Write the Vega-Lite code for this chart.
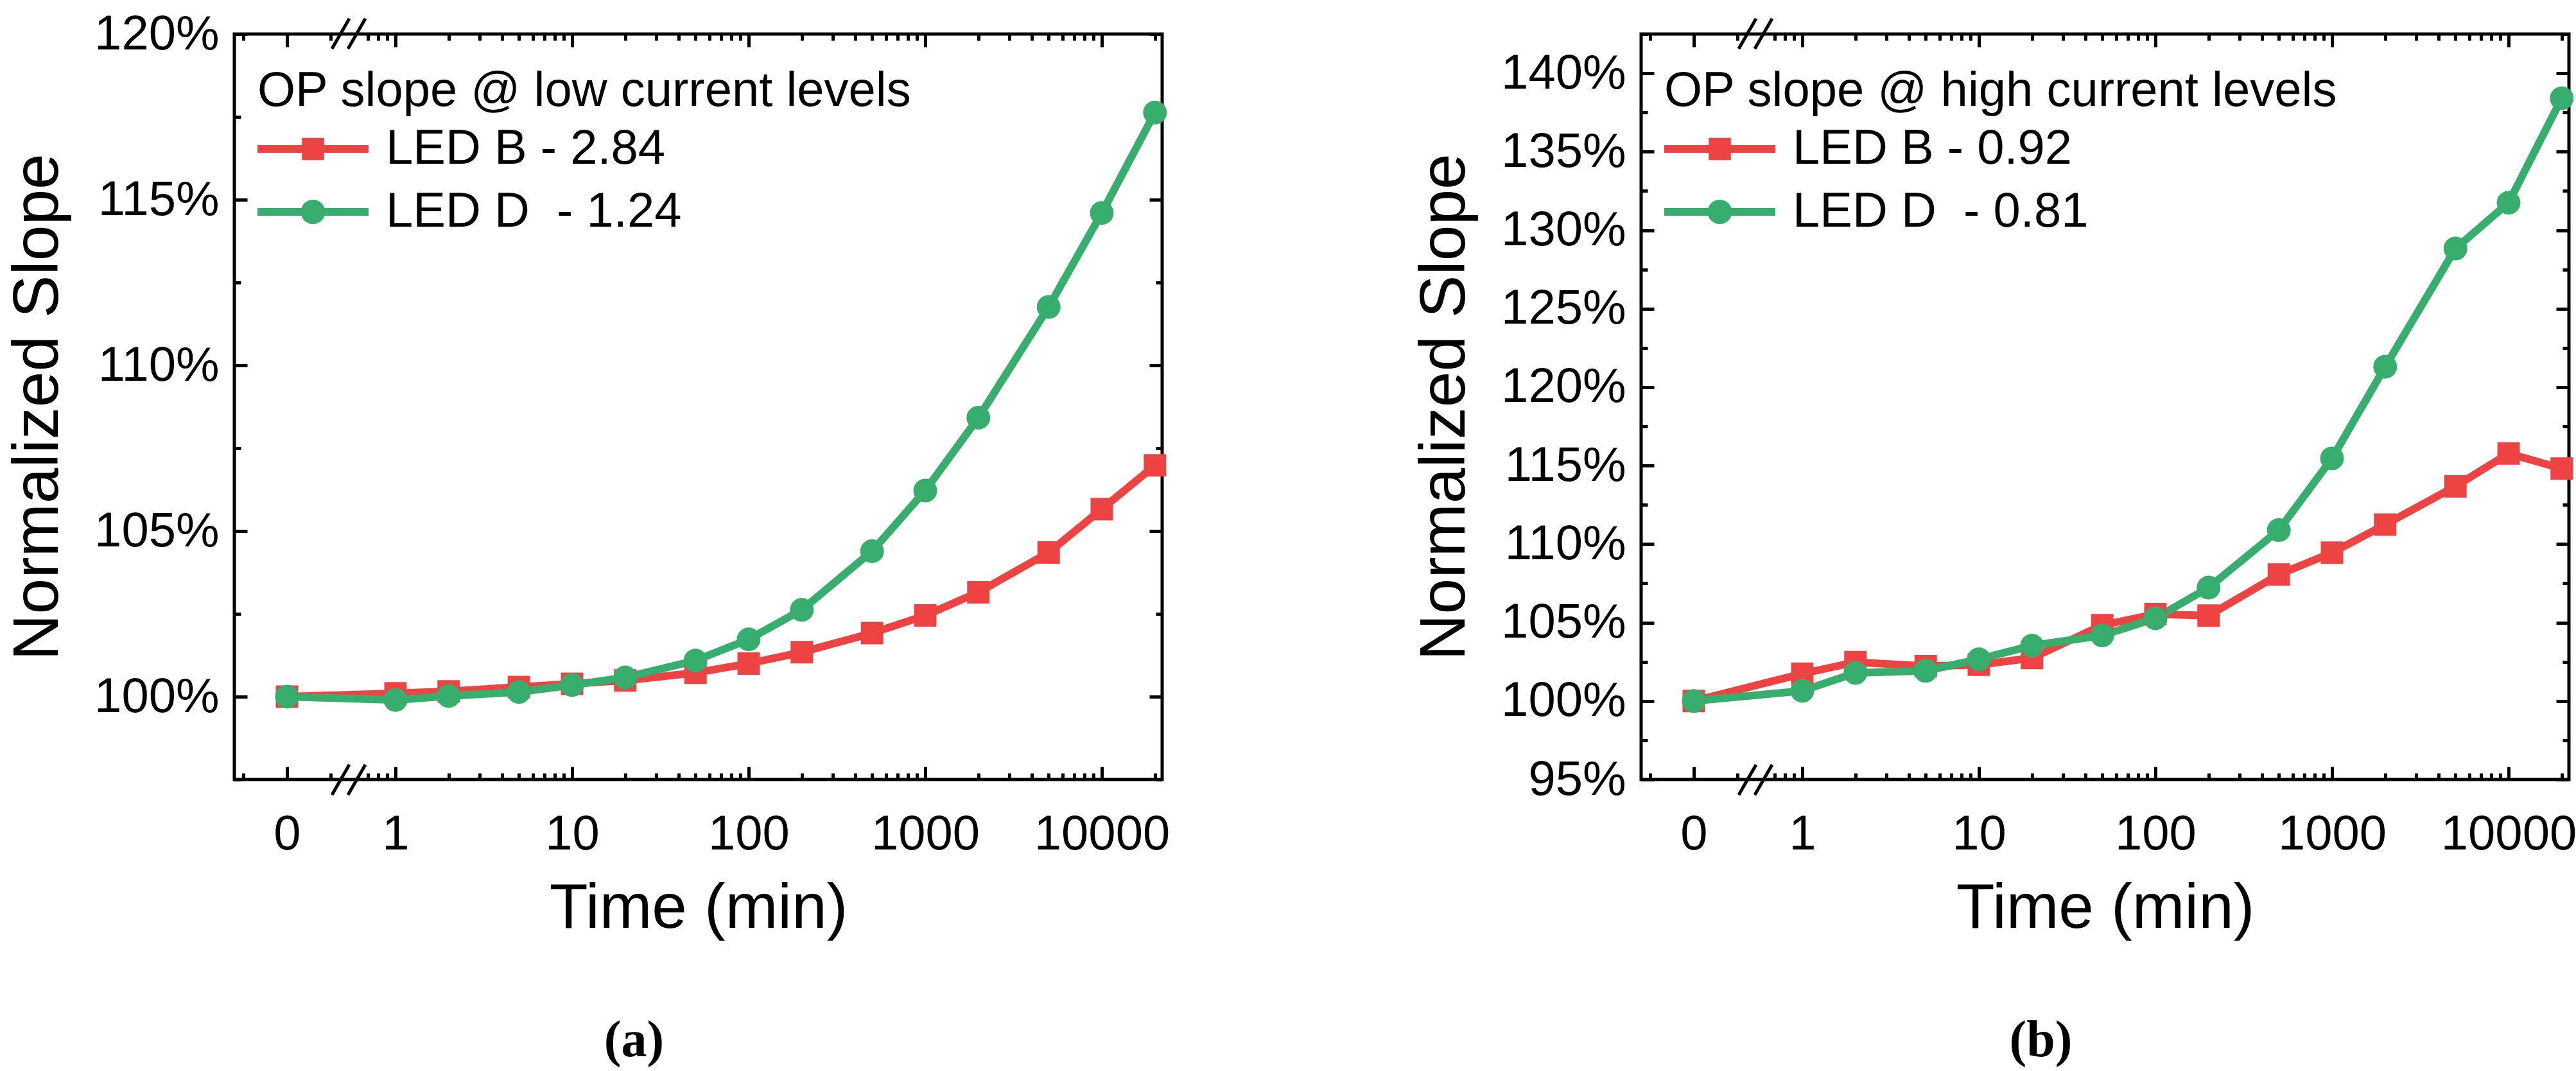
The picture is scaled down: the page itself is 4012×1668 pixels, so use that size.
{
  "$schema": "https://vega.github.io/schema/vega-lite/v6.json",
  "padding": {"left": 6, "top": 12, "right": 0, "bottom": 0},
  "background": "white",
  "config": {
    "view": {"stroke": "black", "strokeWidth": 5},
    "font": "Liberation Sans",
    "axis": {"domain": false, "grid": false, "tickColor": "black", "tickWidth": 5, "labelFont": "Liberation Sans", "labelFontSize": 76, "labelColor": "black", "labelLimit": 0, "titleFont": "Liberation Sans", "titleFontWeight": "normal", "titleColor": "black", "labelFlush": false, "labelOverlap": false, "labelBound": false},
    "legend": {
      "orient": "none", "legendX": 36, "legendY": 52, "padding": 0,
      "titleFont": "Liberation Sans", "titleFontSize": 76, "titleFontWeight": "normal", "titleColor": "black", "titlePadding": 2, "titleLimit": 0,
      "labelFont": "Liberation Sans", "labelFontSize": 76, "labelColor": "black", "labelLimit": 0, "labelOffset": 27,
      "symbolSize": 29929, "clipHeight": 98, "rowPadding": 0, "symbolStrokeWidth": 0, "symbolOpacity": 1
    }
  },
  "datasets": {
    "a": [
      {"t": 0, "series": "LED B - 2.84", "v": 100.0},
      {"t": 1, "series": "LED B - 2.84", "v": 100.1},
      {"t": 2, "series": "LED B - 2.84", "v": 100.16},
      {"t": 5, "series": "LED B - 2.84", "v": 100.29},
      {"t": 10, "series": "LED B - 2.84", "v": 100.39},
      {"t": 20, "series": "LED B - 2.84", "v": 100.49},
      {"t": 50, "series": "LED B - 2.84", "v": 100.72},
      {"t": 100, "series": "LED B - 2.84", "v": 101.0},
      {"t": 200, "series": "LED B - 2.84", "v": 101.34},
      {"t": 500, "series": "LED B - 2.84", "v": 101.92},
      {"t": 1000, "series": "LED B - 2.84", "v": 102.45},
      {"t": 2000, "series": "LED B - 2.84", "v": 103.15},
      {"t": 5000, "series": "LED B - 2.84", "v": 104.35},
      {"t": 10000, "series": "LED B - 2.84", "v": 105.66},
      {"t": 20000, "series": "LED B - 2.84", "v": 106.98},
      {"t": 0, "series": "LED D\u00a0 - 1.24", "v": 100.0},
      {"t": 1, "series": "LED D\u00a0 - 1.24", "v": 99.9},
      {"t": 2, "series": "LED D\u00a0 - 1.24", "v": 100.02},
      {"t": 5, "series": "LED D\u00a0 - 1.24", "v": 100.14},
      {"t": 10, "series": "LED D\u00a0 - 1.24", "v": 100.35},
      {"t": 20, "series": "LED D\u00a0 - 1.24", "v": 100.58},
      {"t": 50, "series": "LED D\u00a0 - 1.24", "v": 101.09},
      {"t": 100, "series": "LED D\u00a0 - 1.24", "v": 101.73},
      {"t": 200, "series": "LED D\u00a0 - 1.24", "v": 102.62},
      {"t": 500, "series": "LED D\u00a0 - 1.24", "v": 104.39},
      {"t": 1000, "series": "LED D\u00a0 - 1.24", "v": 106.22},
      {"t": 2000, "series": "LED D\u00a0 - 1.24", "v": 108.42},
      {"t": 5000, "series": "LED D\u00a0 - 1.24", "v": 111.76},
      {"t": 10000, "series": "LED D\u00a0 - 1.24", "v": 114.6},
      {"t": 20000, "series": "LED D\u00a0 - 1.24", "v": 117.63}
    ],
    "b": [
      {"t": 0, "series": "LED B - 0.92", "v": 100.0},
      {"t": 1, "series": "LED B - 0.92", "v": 101.74},
      {"t": 2, "series": "LED B - 0.92", "v": 102.48},
      {"t": 5, "series": "LED B - 0.92", "v": 102.22},
      {"t": 10, "series": "LED B - 0.92", "v": 102.31},
      {"t": 20, "series": "LED B - 0.92", "v": 102.74},
      {"t": 50, "series": "LED B - 0.92", "v": 104.83},
      {"t": 100, "series": "LED B - 0.92", "v": 105.53},
      {"t": 200, "series": "LED B - 0.92", "v": 105.44},
      {"t": 500, "series": "LED B - 0.92", "v": 108.06},
      {"t": 1000, "series": "LED B - 0.92", "v": 109.45},
      {"t": 2000, "series": "LED B - 0.92", "v": 111.24},
      {"t": 5000, "series": "LED B - 0.92", "v": 113.68},
      {"t": 10000, "series": "LED B - 0.92", "v": 115.77},
      {"t": 20000, "series": "LED B - 0.92", "v": 114.81},
      {"t": 0, "series": "LED D\u00a0 - 0.81", "v": 100.0},
      {"t": 1, "series": "LED D\u00a0 - 0.81", "v": 100.65},
      {"t": 2, "series": "LED D\u00a0 - 0.81", "v": 101.79},
      {"t": 5, "series": "LED D\u00a0 - 0.81", "v": 101.92},
      {"t": 10, "series": "LED D\u00a0 - 0.81", "v": 102.66},
      {"t": 20, "series": "LED D\u00a0 - 0.81", "v": 103.53},
      {"t": 50, "series": "LED D\u00a0 - 0.81", "v": 104.18},
      {"t": 100, "series": "LED D\u00a0 - 0.81", "v": 105.27},
      {"t": 200, "series": "LED D\u00a0 - 0.81", "v": 107.23},
      {"t": 500, "series": "LED D\u00a0 - 0.81", "v": 110.89},
      {"t": 1000, "series": "LED D\u00a0 - 0.81", "v": 115.46},
      {"t": 2000, "series": "LED D\u00a0 - 0.81", "v": 121.3},
      {"t": 5000, "series": "LED D\u00a0 - 0.81", "v": 128.83},
      {"t": 10000, "series": "LED D\u00a0 - 0.81", "v": 131.75},
      {"t": 20000, "series": "LED D\u00a0 - 0.81", "v": 138.41}
    ]
  },
  "spacing": 371,
  "resolve": {"scale": {"color": "independent", "shape": "independent", "size": "independent"}, "legend": {"color": "independent"}},
  "hconcat": [
    {
      "width": 1445,
      "height": 1161,
      "data": {"name": "a"},
      "title": {"text": "(a)", "orient": "bottom", "anchor": "middle", "frame": "group", "dx": -100, "offset": 118, "font": "Liberation Serif", "fontSize": 80, "fontWeight": "bold", "color": "black"},
      "resolve": {"scale": {"x": "independent", "y": "independent"}, "axis": {"x": "independent", "y": "independent"}},
      "layer": [
        {
          "transform": [{"filter": "datum.t <= 1"}],
          "encoding": {
            "x": {"field": "t", "type": "quantitative", "scale": {"domain": [-0.4852, 8.065], "nice": false, "zero": false}, "axis": {"orient": "bottom", "values": [0], "tickSize": -20, "labelPadding": 68, "title": null}},
            "y": {"field": "v", "type": "quantitative", "scale": {"domain": [97.5, 120], "nice": false, "zero": false}, "axis": {"orient": "left", "values": [100, 105, 110, 115, 120], "tickSize": -20, "labelPadding": 44, "labelExpr": "datum.value + '%'", "title": "Normalized Slope", "titleFontSize": 100, "titlePadding": 55}},
            "color": {"field": "series", "type": "nominal", "scale": {"domain": ["LED B - 2.84", "LED D\u00a0 - 1.24"], "range": ["#EE4343", "#38AE6E"]}, "legend": {"title": "OP slope @ low current levels"}}
          },
          "layer": [
            {"mark": {"type": "line", "strokeWidth": 12}},
            {"transform": [{"filter": "datum.t == 0"}], "mark": {"type": "point", "filled": true, "opacity": 0},
             "encoding": {
               "shape": {"field": "series", "type": "nominal", "scale": {"domain": ["LED B - 2.84", "LED D\u00a0 - 1.24"], "range": ["M-1,-0.07H1V0.07H-1Z M-0.2,-0.2H0.2V0.2H-0.2Z", "M-1,-0.07H1V0.07H-1Z M-0.22,0A0.22,0.22 0 1,1 0.22,0A0.22,0.22 0 1,1 -0.22,0Z"]}, "legend": null},
               "size": {"field": "series", "type": "nominal", "scale": {"domain": ["LED B - 2.84", "LED D\u00a0 - 1.24"], "range": [29929, 29929]}, "legend": null}
             }},
            {"transform": [{"filter": "datum.t == 0 && indexof(datum.series, 'LED B') === 0"}], "mark": {"type": "point", "filled": true, "opacity": 1, "shape": "square", "size": 1225}},
            {"transform": [{"filter": "datum.t == 0 && indexof(datum.series, 'LED D') === 0"}], "mark": {"type": "point", "filled": true, "opacity": 1, "shape": "circle", "size": 1369}}
          ]
        },
        {
          "transform": [{"filter": "datum.t >= 1"}],
          "encoding": {
            "x": {"field": "t", "type": "quantitative", "scale": {"type": "log", "domain": [0.1223, 21970], "nice": false}, "axis": {"orient": "bottom", "values": [1, 10, 100, 1000, 10000], "format": "d", "tickSize": -20, "labelPadding": 68, "title": "Time (min)", "titleFontSize": 98, "titlePadding": 30}},
            "y": {"field": "v", "type": "quantitative", "scale": {"domain": [97.5, 120], "nice": false, "zero": false}, "axis": {"orient": "left", "values": [97.5, 102.5, 107.5, 112.5, 117.5], "tickSize": -10, "labels": false, "title": null}},
            "color": {"field": "series", "type": "nominal", "scale": {"domain": ["LED B - 2.84", "LED D\u00a0 - 1.24"], "range": ["#EE4343", "#38AE6E"]}, "legend": {"title": "OP slope @ low current levels"}}
          },
          "layer": [
            {"mark": {"type": "line", "strokeWidth": 12}},
            {"transform": [{"filter": "indexof(datum.series, 'LED B') === 0"}], "mark": {"type": "point", "filled": true, "opacity": 1, "shape": "square", "size": 1225}},
            {"transform": [{"filter": "indexof(datum.series, 'LED D') === 0"}], "mark": {"type": "point", "filled": true, "opacity": 1, "shape": "circle", "size": 1369}}
          ]
        },
        {
          "transform": [{"filter": "datum.t <= 1"}],
          "mark": {"type": "point", "opacity": 0},
          "encoding": {
            "x": {"field": "t", "type": "quantitative", "scale": {"domain": [-0.4852, 8.065], "nice": false, "zero": false}, "axis": {"orient": "bottom", "values": [-0.4, 0.4], "tickSize": -10, "labels": false, "title": null}},
            "y": {"field": "v", "type": "quantitative", "scale": {"domain": [97.5, 120], "nice": false, "zero": false}, "axis": {"orient": "right", "values": [100, 105, 110, 115, 120], "tickSize": -20, "labels": false, "title": null}}
          }
        },
        {
          "transform": [{"filter": "datum.t >= 1"}],
          "mark": {"type": "point", "opacity": 0},
          "encoding": {
            "x": {"field": "t", "type": "quantitative", "scale": {"type": "log", "domain": [0.1223, 21970], "nice": false}, "axis": {"orient": "bottom", "values": [0.7, 0.8, 0.9, 2, 3, 4, 5, 6, 7, 8, 9, 20, 30, 40, 50, 60, 70, 80, 90, 200, 300, 400, 500, 600, 700, 800, 900, 2000, 3000, 4000, 5000, 6000, 7000, 8000, 9000, 20000], "tickSize": -10, "labels": false, "title": null}},
            "y": {"field": "v", "type": "quantitative", "scale": {"domain": [97.5, 120], "nice": false, "zero": false}, "axis": {"orient": "right", "values": [97.5, 102.5, 107.5, 112.5, 117.5], "tickSize": -10, "labels": false, "title": null}}
          }
        },
        {
          "transform": [{"filter": "datum.t <= 1"}],
          "mark": {"type": "point", "opacity": 0},
          "encoding": {
            "x": {"field": "t", "type": "quantitative", "scale": {"domain": [-0.4852, 8.065], "nice": false, "zero": false}, "axis": {"orient": "top", "values": [0], "tickSize": -20, "labels": false, "title": null}},
            "y": {"field": "v", "type": "quantitative", "scale": {"domain": [97.5, 120], "nice": false, "zero": false}, "axis": null}
          }
        },
        {
          "transform": [{"filter": "datum.t <= 1"}],
          "mark": {"type": "point", "opacity": 0},
          "encoding": {
            "x": {"field": "t", "type": "quantitative", "scale": {"domain": [-0.4852, 8.065], "nice": false, "zero": false}, "axis": {"orient": "top", "values": [-0.4, 0.4], "tickSize": -10, "labels": false, "title": null}},
            "y": {"field": "v", "type": "quantitative", "scale": {"domain": [97.5, 120], "nice": false, "zero": false}, "axis": null}
          }
        },
        {
          "transform": [{"filter": "datum.t >= 1"}],
          "mark": {"type": "point", "opacity": 0},
          "encoding": {
            "x": {"field": "t", "type": "quantitative", "scale": {"type": "log", "domain": [0.1223, 21970], "nice": false}, "axis": {"orient": "top", "values": [1, 10, 100, 1000, 10000], "tickSize": -20, "labels": false, "title": null}},
            "y": {"field": "v", "type": "quantitative", "scale": {"domain": [97.5, 120], "nice": false, "zero": false}, "axis": null}
          }
        },
        {
          "transform": [{"filter": "datum.t >= 1"}],
          "mark": {"type": "point", "opacity": 0},
          "encoding": {
            "x": {"field": "t", "type": "quantitative", "scale": {"type": "log", "domain": [0.1223, 21970], "nice": false}, "axis": {"orient": "top", "values": [0.7, 0.8, 0.9, 2, 3, 4, 5, 6, 7, 8, 9, 20, 30, 40, 50, 60, 70, 80, 90, 200, 300, 400, 500, 600, 700, 800, 900, 2000, 3000, 4000, 5000, 6000, 7000, 8000, 9000, 20000], "tickSize": -10, "labels": false, "title": null}},
            "y": {"field": "v", "type": "quantitative", "scale": {"domain": [97.5, 120], "nice": false, "zero": false}, "axis": null}
          }
        },
        {
          "data": {"values": [{}]},
          "layer": [
            {"mark": {"type": "rule", "color": "black", "strokeWidth": 5},
             "encoding": {
               "x": {"datum": 0.414, "type": "quantitative", "scale": {"domain": [-0.4852, 8.065], "nice": false, "zero": false}, "axis": null},
               "x2": {"datum": 0.574},
               "y": {"datum": 97.035, "type": "quantitative", "scale": {"domain": [97.5, 120], "nice": false, "zero": false}, "axis": null},
               "y2": {"datum": 97.945}
             }},
            {"mark": {"type": "rule", "color": "black", "strokeWidth": 5},
             "encoding": {
               "x": {"datum": 0.562, "type": "quantitative", "scale": {"domain": [-0.4852, 8.065], "nice": false, "zero": false}, "axis": null},
               "x2": {"datum": 0.722},
               "y": {"datum": 97.035, "type": "quantitative", "scale": {"domain": [97.5, 120], "nice": false, "zero": false}, "axis": null},
               "y2": {"datum": 97.945}
             }},
            {"mark": {"type": "rule", "color": "black", "strokeWidth": 5},
             "encoding": {
               "x": {"datum": 0.414, "type": "quantitative", "scale": {"domain": [-0.4852, 8.065], "nice": false, "zero": false}, "axis": null},
               "x2": {"datum": 0.574},
               "y": {"datum": 119.555, "type": "quantitative", "scale": {"domain": [97.5, 120], "nice": false, "zero": false}, "axis": null},
               "y2": {"datum": 120.465}
             }},
            {"mark": {"type": "rule", "color": "black", "strokeWidth": 5},
             "encoding": {
               "x": {"datum": 0.562, "type": "quantitative", "scale": {"domain": [-0.4852, 8.065], "nice": false, "zero": false}, "axis": null},
               "x2": {"datum": 0.722},
               "y": {"datum": 119.555, "type": "quantitative", "scale": {"domain": [97.5, 120], "nice": false, "zero": false}, "axis": null},
               "y2": {"datum": 120.465}
             }}
          ]
        }
      ]
    },
    {
      "width": 1445,
      "height": 1161,
      "data": {"name": "b"},
      "title": {"text": "(b)", "orient": "bottom", "anchor": "middle", "frame": "group", "dx": -100, "offset": 118, "font": "Liberation Serif", "fontSize": 80, "fontWeight": "bold", "color": "black"},
      "resolve": {"scale": {"x": "independent", "y": "independent"}, "axis": {"x": "independent", "y": "independent"}},
      "layer": [
        {
          "transform": [{"filter": "datum.t <= 1"}],
          "encoding": {
            "x": {"field": "t", "type": "quantitative", "scale": {"domain": [-0.4852, 8.065], "nice": false, "zero": false}, "axis": {"orient": "bottom", "values": [0], "tickSize": -20, "labelPadding": 68, "title": null}},
            "y": {"field": "v", "type": "quantitative", "scale": {"domain": [95, 142.5], "nice": false, "zero": false}, "axis": {"orient": "left", "values": [95, 100, 105, 110, 115, 120, 125, 130, 135, 140], "tickSize": -20, "labelPadding": 44, "labelExpr": "datum.value + '%'", "title": "Normalized Slope", "titleFontSize": 100, "titlePadding": 55}},
            "color": {"field": "series", "type": "nominal", "scale": {"domain": ["LED B - 0.92", "LED D\u00a0 - 0.81"], "range": ["#EE4343", "#38AE6E"]}, "legend": {"title": "OP slope @ high current levels"}}
          },
          "layer": [
            {"mark": {"type": "line", "strokeWidth": 12}},
            {"transform": [{"filter": "datum.t == 0"}], "mark": {"type": "point", "filled": true, "opacity": 0},
             "encoding": {
               "shape": {"field": "series", "type": "nominal", "scale": {"domain": ["LED B - 0.92", "LED D\u00a0 - 0.81"], "range": ["M-1,-0.07H1V0.07H-1Z M-0.2,-0.2H0.2V0.2H-0.2Z", "M-1,-0.07H1V0.07H-1Z M-0.22,0A0.22,0.22 0 1,1 0.22,0A0.22,0.22 0 1,1 -0.22,0Z"]}, "legend": null},
               "size": {"field": "series", "type": "nominal", "scale": {"domain": ["LED B - 0.92", "LED D\u00a0 - 0.81"], "range": [29929, 29929]}, "legend": null}
             }},
            {"transform": [{"filter": "datum.t == 0 && indexof(datum.series, 'LED B') === 0"}], "mark": {"type": "point", "filled": true, "opacity": 1, "shape": "square", "size": 1225}},
            {"transform": [{"filter": "datum.t == 0 && indexof(datum.series, 'LED D') === 0"}], "mark": {"type": "point", "filled": true, "opacity": 1, "shape": "circle", "size": 1369}}
          ]
        },
        {
          "transform": [{"filter": "datum.t >= 1"}],
          "encoding": {
            "x": {"field": "t", "type": "quantitative", "scale": {"type": "log", "domain": [0.1223, 21970], "nice": false}, "axis": {"orient": "bottom", "values": [1, 10, 100, 1000, 10000], "format": "d", "tickSize": -20, "labelPadding": 68, "title": "Time (min)", "titleFontSize": 98, "titlePadding": 30}},
            "y": {"field": "v", "type": "quantitative", "scale": {"domain": [95, 142.5], "nice": false, "zero": false}, "axis": {"orient": "left", "values": [97.5, 102.5, 107.5, 112.5, 117.5, 122.5, 127.5, 132.5, 137.5, 142.5], "tickSize": -10, "labels": false, "title": null}},
            "color": {"field": "series", "type": "nominal", "scale": {"domain": ["LED B - 0.92", "LED D\u00a0 - 0.81"], "range": ["#EE4343", "#38AE6E"]}, "legend": {"title": "OP slope @ high current levels"}}
          },
          "layer": [
            {"mark": {"type": "line", "strokeWidth": 12}},
            {"transform": [{"filter": "indexof(datum.series, 'LED B') === 0"}], "mark": {"type": "point", "filled": true, "opacity": 1, "shape": "square", "size": 1225}},
            {"transform": [{"filter": "indexof(datum.series, 'LED D') === 0"}], "mark": {"type": "point", "filled": true, "opacity": 1, "shape": "circle", "size": 1369}}
          ]
        },
        {
          "transform": [{"filter": "datum.t <= 1"}],
          "mark": {"type": "point", "opacity": 0},
          "encoding": {
            "x": {"field": "t", "type": "quantitative", "scale": {"domain": [-0.4852, 8.065], "nice": false, "zero": false}, "axis": {"orient": "bottom", "values": [-0.4, 0.4], "tickSize": -10, "labels": false, "title": null}},
            "y": {"field": "v", "type": "quantitative", "scale": {"domain": [95, 142.5], "nice": false, "zero": false}, "axis": {"orient": "right", "values": [95, 100, 105, 110, 115, 120, 125, 130, 135, 140], "tickSize": -20, "labels": false, "title": null}}
          }
        },
        {
          "transform": [{"filter": "datum.t >= 1"}],
          "mark": {"type": "point", "opacity": 0},
          "encoding": {
            "x": {"field": "t", "type": "quantitative", "scale": {"type": "log", "domain": [0.1223, 21970], "nice": false}, "axis": {"orient": "bottom", "values": [0.7, 0.8, 0.9, 2, 3, 4, 5, 6, 7, 8, 9, 20, 30, 40, 50, 60, 70, 80, 90, 200, 300, 400, 500, 600, 700, 800, 900, 2000, 3000, 4000, 5000, 6000, 7000, 8000, 9000, 20000], "tickSize": -10, "labels": false, "title": null}},
            "y": {"field": "v", "type": "quantitative", "scale": {"domain": [95, 142.5], "nice": false, "zero": false}, "axis": {"orient": "right", "values": [97.5, 102.5, 107.5, 112.5, 117.5, 122.5, 127.5, 132.5, 137.5, 142.5], "tickSize": -10, "labels": false, "title": null}}
          }
        },
        {
          "transform": [{"filter": "datum.t <= 1"}],
          "mark": {"type": "point", "opacity": 0},
          "encoding": {
            "x": {"field": "t", "type": "quantitative", "scale": {"domain": [-0.4852, 8.065], "nice": false, "zero": false}, "axis": {"orient": "top", "values": [0], "tickSize": -20, "labels": false, "title": null}},
            "y": {"field": "v", "type": "quantitative", "scale": {"domain": [95, 142.5], "nice": false, "zero": false}, "axis": null}
          }
        },
        {
          "transform": [{"filter": "datum.t <= 1"}],
          "mark": {"type": "point", "opacity": 0},
          "encoding": {
            "x": {"field": "t", "type": "quantitative", "scale": {"domain": [-0.4852, 8.065], "nice": false, "zero": false}, "axis": {"orient": "top", "values": [-0.4, 0.4], "tickSize": -10, "labels": false, "title": null}},
            "y": {"field": "v", "type": "quantitative", "scale": {"domain": [95, 142.5], "nice": false, "zero": false}, "axis": null}
          }
        },
        {
          "transform": [{"filter": "datum.t >= 1"}],
          "mark": {"type": "point", "opacity": 0},
          "encoding": {
            "x": {"field": "t", "type": "quantitative", "scale": {"type": "log", "domain": [0.1223, 21970], "nice": false}, "axis": {"orient": "top", "values": [1, 10, 100, 1000, 10000], "tickSize": -20, "labels": false, "title": null}},
            "y": {"field": "v", "type": "quantitative", "scale": {"domain": [95, 142.5], "nice": false, "zero": false}, "axis": null}
          }
        },
        {
          "transform": [{"filter": "datum.t >= 1"}],
          "mark": {"type": "point", "opacity": 0},
          "encoding": {
            "x": {"field": "t", "type": "quantitative", "scale": {"type": "log", "domain": [0.1223, 21970], "nice": false}, "axis": {"orient": "top", "values": [0.7, 0.8, 0.9, 2, 3, 4, 5, 6, 7, 8, 9, 20, 30, 40, 50, 60, 70, 80, 90, 200, 300, 400, 500, 600, 700, 800, 900, 2000, 3000, 4000, 5000, 6000, 7000, 8000, 9000, 20000], "tickSize": -10, "labels": false, "title": null}},
            "y": {"field": "v", "type": "quantitative", "scale": {"domain": [95, 142.5], "nice": false, "zero": false}, "axis": null}
          }
        },
        {
          "data": {"values": [{}]},
          "layer": [
            {"mark": {"type": "rule", "color": "black", "strokeWidth": 5},
             "encoding": {
               "x": {"datum": 0.414, "type": "quantitative", "scale": {"domain": [-0.4852, 8.065], "nice": false, "zero": false}, "axis": null},
               "x2": {"datum": 0.574},
               "y": {"datum": 94.018, "type": "quantitative", "scale": {"domain": [95, 142.5], "nice": false, "zero": false}, "axis": null},
               "y2": {"datum": 95.941}
             }},
            {"mark": {"type": "rule", "color": "black", "strokeWidth": 5},
             "encoding": {
               "x": {"datum": 0.562, "type": "quantitative", "scale": {"domain": [-0.4852, 8.065], "nice": false, "zero": false}, "axis": null},
               "x2": {"datum": 0.722},
               "y": {"datum": 94.018, "type": "quantitative", "scale": {"domain": [95, 142.5], "nice": false, "zero": false}, "axis": null},
               "y2": {"datum": 95.941}
             }},
            {"mark": {"type": "rule", "color": "black", "strokeWidth": 5},
             "encoding": {
               "x": {"datum": 0.414, "type": "quantitative", "scale": {"domain": [-0.4852, 8.065], "nice": false, "zero": false}, "axis": null},
               "x2": {"datum": 0.574},
               "y": {"datum": 141.559, "type": "quantitative", "scale": {"domain": [95, 142.5], "nice": false, "zero": false}, "axis": null},
               "y2": {"datum": 143.482}
             }},
            {"mark": {"type": "rule", "color": "black", "strokeWidth": 5},
             "encoding": {
               "x": {"datum": 0.562, "type": "quantitative", "scale": {"domain": [-0.4852, 8.065], "nice": false, "zero": false}, "axis": null},
               "x2": {"datum": 0.722},
               "y": {"datum": 141.559, "type": "quantitative", "scale": {"domain": [95, 142.5], "nice": false, "zero": false}, "axis": null},
               "y2": {"datum": 143.482}
             }}
          ]
        }
      ]
    }
  ]
}
